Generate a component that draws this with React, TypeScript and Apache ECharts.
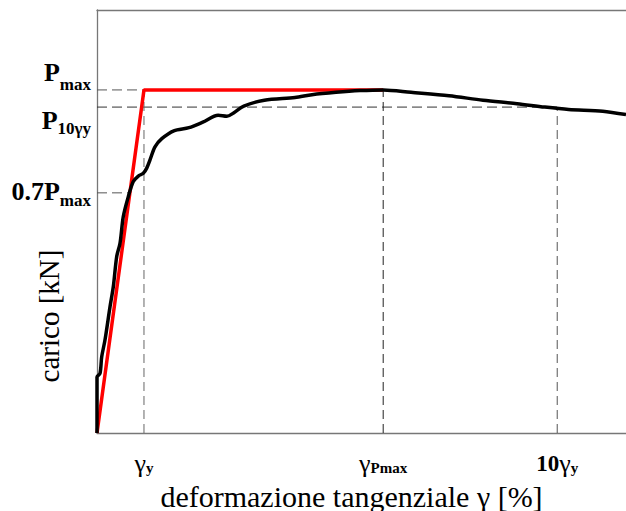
import React, { useEffect, useRef } from "react";
import * as echarts from "echarts";

// Black experimental curve: strain (x, arbitrary % units) and load (y, % of Pmax)
const strainData = [
  0, 0, 0.57, 0.89, 1.51, 2.46, 3.08, 3.72, 4.35, 4.97, 5.92, 6.86, 7.81, 8.75,
  9.4, 10.02, 10.96, 12.25, 14.52, 17.39, 20.0, 22.91, 24.54, 25.82, 27.75,
  31.64, 37.43, 40.64, 45.18, 49.72, 54.12, 59.36, 66.54, 72.97, 79.4, 84.63,
  89.15, 95.61, 100,
];
const loadData = [
  0, 16.3, 17.4, 22.2, 27.1, 36.8, 42.6, 51.4, 55.3, 63.1, 68.9, 73.3, 74.9,
  75.7, 77.2, 79.6, 83.4, 85.8, 88.1, 89.0, 90.6, 92.6, 92.3, 93.3, 95.3, 97.0,
  97.8, 98.6, 99.3, 99.8, 100, 99.3, 98.3, 97.0, 96.0, 95.0, 94.3, 93.8, 92.8,
];

// Red bilinear idealisation
const bilinearStrain = [0, 8.88, 54.1];
const bilinearLoad = [0, 100, 100];

// Characteristic values
const gammaTicks = [8.88, 54.1, 87.0]; // γy, γPmax, 10γy
const gammaTickLabels = ["{g|γ}{s|y}", "{g|γ}{s|Pmax}", "{n|10}{g|γ}{s|y}"];
const loadTicks = [100, 95, 70]; // Pmax, P10γy, 0.7Pmax
const loadTickLabels = ["{pA|P}{sA|max}", "{pB|P}{sB|10γy}", "{pC|0.7P}{sC|max}"];
const cross07Strain = 6.2; // where 0.7Pmax meets the curve

const xAxisTitle = "deformazione tangenziale γ [%]";
const yAxisTitle = "carico [kN]";

const X_MAX = 100;
const Y_MAX = 123.3;

const FONT = "Liberation Serif";

export default function App() {
  const ref = useRef<HTMLDivElement>(null);

  useEffect(() => {
    if (!ref.current) return;
    const chart = echarts.init(ref.current, null, { renderer: "svg" });

    const [gY, gPmax, g10] = gammaTicks;
    const [Pmax, P10, P07] = loadTicks;

    const dashed = (pts: number[][], color: string, dash: number[]) => ({
      type: "line",
      data: pts,
      symbol: "none",
      silent: true,
      z: 1,
      lineStyle: { color, width: 1, type: dash },
    });

    const pick = (v: number, ticks: number[], labels: string[]) => {
      for (let i = 0; i < ticks.length; i++) {
        if (Math.abs(v - ticks[i]) < 0.01) return labels[i];
      }
      return "";
    };

    const option: any = {
      animation: false,
      grid: {
        left: 97,
        top: 10,
        right: 0,
        bottom: 78,
        containLabel: false,
        outerBoundsMode: "none",
      },
      graphic: [
        {
          type: "text",
          x: 49,
          y: 316,
          rotation: Math.PI / 2,
          style: {
            text: yAxisTitle,
            fontSize: 29,
            fontFamily: FONT,
            fill: "#000",
            align: "center",
            verticalAlign: "middle",
          },
        },
      ],
      xAxis: [
        {
          type: "value",
          min: 0,
          max: X_MAX,
          position: "bottom",
          splitLine: { show: false },
          axisTick: { show: false },
          axisLine: { show: true, lineStyle: { color: "#777", width: 1.3 } },
          axisLabel: {
            customValues: gammaTicks,
            margin: 30,
            verticalAlign: "middle",
            formatter: (v: number) => pick(v, gammaTicks, gammaTickLabels),
            rich: {
              g: { fontSize: 26, fontFamily: FONT, color: "#000" },
              s: {
                fontSize: 15,
                fontFamily: FONT,
                fontWeight: "bold",
                color: "#000",
                padding: [10, 0, 0, 0],
              },
              n: { fontSize: 23, fontFamily: FONT, fontWeight: "bold", color: "#000" },
            },
          },
          name: xAxisTitle,
          nameLocation: "middle",
          nameGap: 63,
          nameTextStyle: {
            fontSize: 30,
            fontFamily: FONT,
            color: "#000",
            verticalAlign: "middle",
            padding: [0, 20, 0, 0],
          },
        },
        {
          type: "value",
          min: 0,
          max: X_MAX,
          position: "top",
          splitLine: { show: false },
          axisTick: { show: false },
          axisLabel: { show: false },
          axisLine: { show: true, lineStyle: { color: "#777", width: 1.3 } },
        },
      ],
      yAxis: {
        type: "value",
        min: 0,
        max: Y_MAX,
        splitLine: { show: false },
        axisTick: { show: false },
        axisLine: { show: true, lineStyle: { color: "#777", width: 1.3 } },
        axisLabel: {
          customValues: loadTicks,
          margin: 6,
          formatter: (v: number) => pick(v, loadTicks, loadTickLabels),
          rich: {
            pA: { fontSize: 26, fontFamily: FONT, fontWeight: "bold", color: "#000", padding: [0, 0, 34, 0] },
            sA: { fontSize: 17, fontFamily: FONT, fontWeight: "bold", color: "#000", padding: [0, 0, 11, 0] },
            pB: { fontSize: 26, fontFamily: FONT, fontWeight: "bold", color: "#000", padding: [26, 0, 0, 0] },
            sB: { fontSize: 17, fontFamily: FONT, fontWeight: "bold", color: "#000", padding: [42, 0, 0, 0] },
            pC: { fontSize: 26, fontFamily: FONT, fontWeight: "bold", color: "#000", padding: [0, 0, 3, 0] },
            sC: { fontSize: 17, fontFamily: FONT, fontWeight: "bold", color: "#000", padding: [15, 0, 0, 0] },
          },
        },
      },
      series: [
        dashed([[0, Pmax], [gPmax, Pmax]], "#555", [10, 5]),
        dashed([[0, P10], [g10, P10]], "#333", [10, 5]),
        dashed([[0, P07], [cross07Strain, P07]], "#555", [10, 5]),
        dashed([[gY, 0], [gY, Pmax]], "#666", [9, 5]),
        dashed([[gPmax, 0], [gPmax, Pmax]], "#222", [9, 5]),
        dashed([[g10, 0], [g10, P10]], "#555", [9, 5]),
        {
          type: "line",
          data: bilinearStrain.map((x, i) => [x, bilinearLoad[i]]),
          symbol: "none",
          silent: true,
          z: 2,
          lineStyle: { color: "#ff0000", width: 3.5 },
        },
        {
          type: "line",
          data: strainData.map((x, i) => [x, loadData[i]]),
          symbol: "none",
          smooth: 0.3,
          silent: true,
          z: 3,
          lineStyle: { color: "#000", width: 3.5 },
        },
      ],
    };

    chart.setOption(option);
    return () => chart.dispose();
  }, []);

  return (
    <div
      ref={ref}
      style={{ position: "absolute", left: 0, top: 0, width: 626, height: 511, background: "#fff" }}
    />
  );
}
